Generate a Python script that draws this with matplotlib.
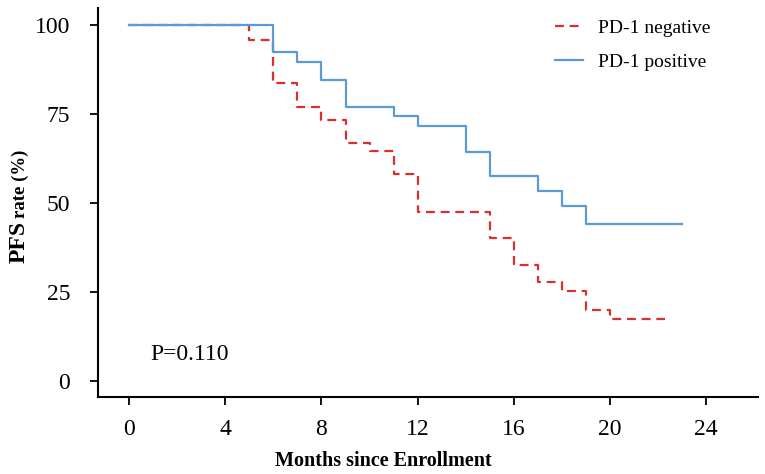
import matplotlib
matplotlib.use("Agg")
import matplotlib.pyplot as plt

plt.rcParams['font.family'] = ['Liberation Serif', 'DejaVu Serif']

# PD-1 negative (Kaplan-Meier steps, % PFS)
neg_months = [0, 5, 6, 7, 8, 9, 10, 11, 12, 15, 16, 17, 18, 19, 20, 22.3]
neg_pfs = [100, 95.9, 83.6, 77.0, 73.2, 66.8, 64.6, 58.2, 47.5, 40.2, 32.6, 27.7, 25.2, 20.0, 17.5, 17.5]

# PD-1 positive
pos_months = [0, 6, 7, 8, 9, 11, 12, 14, 15, 17, 18, 19, 23]
pos_pfs = [100, 92.3, 89.7, 84.6, 76.9, 74.4, 71.6, 64.4, 57.5, 53.4, 49.1, 44.2, 44.2]

x_ticks = [0, 4, 8, 12, 16, 20, 24]
y_ticks = [0, 25, 50, 75, 100]

fig = plt.figure(figsize=(7.65, 4.74), dpi=100)
ax = fig.add_axes([98 / 765, 1 - 397 / 474, 660 / 765, 389 / 474])

ax.step(neg_months, neg_pfs, where='post', color='#d9302f', lw=1.6,
        linestyle=(0, (4, 2.6)), label='PD-1 negative')
ax.step(pos_months, pos_pfs, where='post', color='#5b9bd5', lw=1.6,
        label='PD-1 positive')

ax.set_xlim(-1.29, 26.15)
ax.set_ylim(-4.5, 104.8)
ax.set_xticks(x_ticks)
ax.set_yticks(y_ticks)

for side in ['top', 'right']:
    ax.spines[side].set_visible(False)
for side in ['left', 'bottom']:
    ax.spines[side].set_linewidth(1.5)

ax.tick_params(axis='y', direction='out', length=6, width=1.3, pad=14, labelsize=17)
ax.tick_params(axis='x', direction='out', length=6, width=1.3, pad=10, labelsize=17)

ax.text(0.9, 6.0, 'P=0.110', fontsize=17)

# axis labels
fig.text(383 / 765, 1 - 461 / 474, 'Months since Enrollment', ha='center', va='center',
         fontsize=14.5, fontweight='bold')
fig.text(25 / 765, 1 - 263 / 474, 'PFS', rotation=90, rotation_mode='anchor',
         ha='left', va='baseline', fontsize=17, fontweight='bold')
fig.text(25 / 765, 1 - 218 / 474, 'rate (%)', rotation=90, rotation_mode='anchor',
         ha='left', va='baseline', fontsize=13.5, fontweight='bold')

ax.legend(loc='upper left', bbox_to_anchor=(555 / 765, 1 - 19 / 474),
          bbox_transform=fig.transFigure, frameon=False, fontsize=14,
          borderaxespad=0, borderpad=0, handlelength=1.45, handletextpad=0.75,
          labelspacing=0.85)

fig.savefig('out.png', dpi=100)
